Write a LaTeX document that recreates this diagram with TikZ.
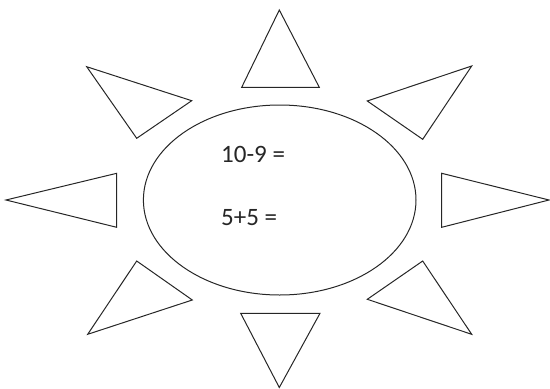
\documentclass[tikz,border=0pt]{standalone}
\usepackage{fontspec}
\setmainfont{Carlito}
\begin{document}
\begin{tikzpicture}[x=1pt,y=-1pt,
  ray/.style={draw=black!85,line width=1pt,line join=miter},
  eq/.style={anchor=west,inner sep=0pt,font=\fontsize{25}{30}\selectfont,text=black!85}]
\useasboundingbox (0,0) rectangle (550,389);
% sun body
\draw[ray] (279.7,200) ellipse [x radius=136.3, y radius=95];
% rays
\draw[ray] (279.3,10) -- (319.3,87.3) -- (241.7,87.3) -- cycle;
\draw[ray] (86.7,66.7) -- (191.7,100.7) -- (136.7,138.3) -- cycle;
\draw[ray] (471.7,66) -- (367.3,101) -- (422.7,139.3) -- cycle;
\draw[ray] (6,200) -- (116.7,173.3) -- (116.7,227.3) -- cycle;
\draw[ray] (549,200) -- (441.7,173.3) -- (441.7,227.3) -- cycle;
\draw[ray] (136.7,261) -- (192.3,300) -- (87.7,334.3) -- cycle;
\draw[ray] (422.7,261) -- (367.3,299.3) -- (471.7,334.3) -- cycle;
\draw[ray] (240.7,313.3) -- (320,313.3) -- (279.3,387.5) -- cycle;
% equations
\node[eq] (e1) at (221,154.5) {10-9 =};
\node[eq] (e2) at (221,217.5) {5+5 =};
\end{tikzpicture}
\end{document}
